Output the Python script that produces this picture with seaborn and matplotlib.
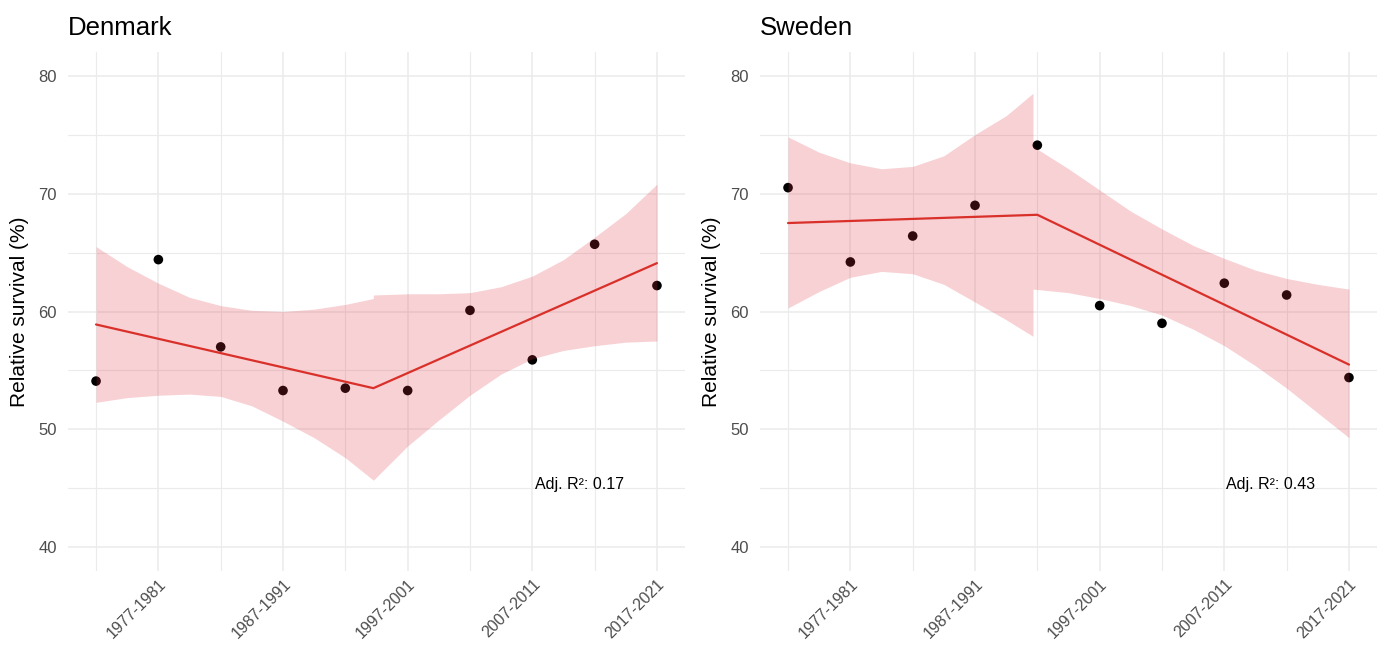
import matplotlib.pyplot as plt
import numpy as np
import pandas as pd
import seaborn as sns

# periods (x positions 1..10)
periods = ["1972-1976", "1977-1981", "1982-1986", "1987-1991", "1992-1996",
           "1997-2001", "2002-2006", "2007-2011", "2012-2016", "2017-2021"]
pos = list(range(1, 11))

dk_surv = [54.1, 64.4, 57.0, 53.3, 53.5, 53.3, 60.1, 55.9, 65.7, 62.2]
se_surv = [70.5, 64.2, 66.4, 69.0, 74.1, 60.5, 59.0, 62.4, 61.4, 54.4]

# segmented fits (start, breakpoint, end)
dk_fit_x = [1, 5.45, 10]
dk_fit_y = [58.9, 53.5, 64.1]
se_fit_x = [1, 5.0, 10]
se_fit_y = [67.5, 68.2, 55.5]

# confidence bands, one list per segment
dk_band1_x = [1, 1.5, 2, 2.5, 3, 3.5, 4, 4.5, 5, 5.45]
dk_band1_lo = [52.3, 52.7, 52.9, 53.0, 52.8, 52.0, 50.7, 49.3, 47.6, 45.7]
dk_band1_hi = [65.5, 63.8, 62.4, 61.2, 60.5, 60.1, 60.0, 60.2, 60.6, 61.1]
dk_band2_x = [5.45, 6, 6.5, 7, 7.5, 8, 8.5, 9, 9.5, 10]
dk_band2_lo = [45.7, 48.6, 50.8, 52.9, 54.7, 56.0, 56.7, 57.1, 57.4, 57.5]
dk_band2_hi = [61.4, 61.5, 61.5, 61.6, 62.1, 63.0, 64.4, 66.3, 68.3, 70.8]

se_band1_x = [1, 1.5, 2, 2.5, 3, 3.5, 4, 4.5, 4.93]
se_band1_lo = [60.3, 61.7, 62.9, 63.4, 63.2, 62.3, 60.8, 59.3, 57.9]
se_band1_hi = [74.8, 73.5, 72.6, 72.1, 72.3, 73.2, 75.0, 76.6, 78.5]
se_band2_x = [4.93, 5.5, 6, 6.5, 7, 7.5, 8, 8.5, 9, 9.5, 10]
se_band2_lo = [61.9, 61.6, 61.1, 60.5, 59.7, 58.5, 57.1, 55.4, 53.5, 51.4, 49.3]
se_band2_hi = [74.0, 72.1, 70.3, 68.5, 67.0, 65.6, 64.5, 63.5, 62.8, 62.3, 61.9]

r2_labels = ["Adj. R\u00b2: 0.17", "Adj. R\u00b2: 0.43"]

sns.set_theme(style="white")
plt.rcParams["font.family"] = ["Liberation Sans", "DejaVu Sans"]

fig = plt.figure(figsize=(13.81, 6.48), dpi=100)
W, H = 1381, 648
ax_dk = fig.add_axes([68 / W, 77 / H, 617 / W, 519 / H])
ax_se = fig.add_axes([760 / W, 77 / H, 617 / W, 519 / H])

line_col = "#D9302A"
band_col = "#E0303E"
grid_col = "#EBEBEB"

panels = [
    (ax_dk, "Denmark", dk_surv, dk_fit_x, dk_fit_y,
     [(dk_band1_x, dk_band1_lo, dk_band1_hi), (dk_band2_x, dk_band2_lo, dk_band2_hi)], r2_labels[0]),
    (ax_se, "Sweden", se_surv, se_fit_x, se_fit_y,
     [(se_band1_x, se_band1_lo, se_band1_hi), (se_band2_x, se_band2_lo, se_band2_hi)], r2_labels[1]),
]

for ax, name, surv, fx, fy, bands, r2 in panels:
    pts = pd.DataFrame({"pos": pos, "surv": surv})
    fit = pd.DataFrame({"pos": fx, "surv": fy})
    sns.scatterplot(data=pts, x="pos", y="surv", color="black", s=48,
                    edgecolor="none", ax=ax, zorder=2)
    for bx, blo, bhi in bands:
        ax.fill_between(bx, blo, bhi, color=band_col, alpha=0.22,
                        linewidth=0, zorder=3)
    sns.lineplot(data=fit, x="pos", y="surv", color=line_col, linewidth=1.6,
                 ax=ax, zorder=4)
    ax.text(8.75, 45.3, r2, fontsize=11.5, ha="center", va="center", color="black")

    ax.set_xlim(0.55, 10.45)
    ax.set_ylim(38, 82)
    ax.set_xticks(pos[1::2])
    ax.set_xticklabels(periods[1::2], rotation=45, ha="right",
                       rotation_mode="anchor", fontsize=11.5, color="#4D4D4D")
    ax.set_xticks(pos[0::2], minor=True)
    ax.set_yticks([40, 50, 60, 70, 80])
    ax.set_yticks([45, 55, 65, 75], minor=True)
    ax.tick_params(axis="both", which="both", length=0)
    ax.tick_params(axis="y", labelsize=12, labelcolor="#4D4D4D", pad=8)
    ax.tick_params(axis="x", pad=4)
    ax.grid(True, which="major", color=grid_col, linewidth=1.1, zorder=0)
    ax.grid(True, which="minor", color=grid_col, linewidth=0.8, zorder=0)
    ax.set_axisbelow(True)
    for sp in ax.spines.values():
        sp.set_visible(False)
    ax.set_xlabel("")
    ax.set_ylabel("Relative survival (%)", fontsize=15, color="black", labelpad=7)
    ax.set_title(name, loc="left", fontsize=18.5, pad=12, color="black")

fig.savefig("out.png", dpi=100)
